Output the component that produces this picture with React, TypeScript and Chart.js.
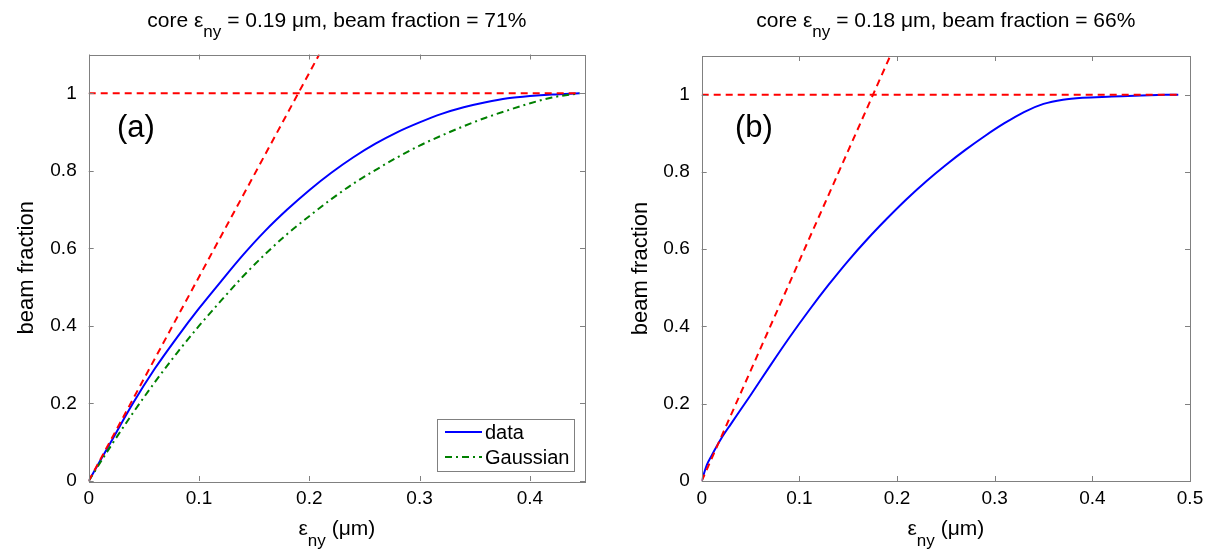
import React, { useEffect, useRef } from "react";
import { Chart, registerables } from "chart.js";
Chart.register(...registerables);

// ---------- data ----------
const yTicks = [0, 0.2, 0.4, 0.6, 0.8, 1];
const xTicksA = [0, 0.1, 0.2, 0.3, 0.4];
const xTicksB = [0, 0.1, 0.2, 0.3, 0.4, 0.5];

// panel (a)
const dataXA = [0, 0.02, 0.04, 0.06, 0.08, 0.1, 0.12, 0.14, 0.16, 0.18, 0.2, 0.22, 0.24, 0.26, 0.28, 0.3, 0.32, 0.34, 0.36, 0.38, 0.4, 0.42, 0.445];
const dataYA = [0, 0.1, 0.2, 0.29, 0.37, 0.445, 0.515, 0.583, 0.645, 0.7, 0.75, 0.795, 0.835, 0.87, 0.9, 0.925, 0.947, 0.964, 0.977, 0.987, 0.993, 0.997, 1.0];
const gaussXA = [0, 0.02, 0.04, 0.06, 0.08, 0.1, 0.12, 0.14, 0.16, 0.18, 0.2, 0.22, 0.24, 0.26, 0.28, 0.3, 0.32, 0.34, 0.36, 0.38, 0.4, 0.42, 0.445];
const gaussYA = [0, 0.09, 0.175, 0.255, 0.33, 0.4, 0.465, 0.528, 0.585, 0.637, 0.683, 0.727, 0.767, 0.802, 0.835, 0.865, 0.891, 0.915, 0.937, 0.956, 0.974, 0.989, 1.0];
const fullXA = [0, 0.445];
const fullYA = [1, 1];
const coreXA = [0, 0.209];
const coreYA = [0, 1.1];

// panel (b)
const dataXB = [0, 0.005, 0.01, 0.02, 0.03, 0.04, 0.05, 0.07, 0.09, 0.11, 0.13, 0.15, 0.17, 0.19, 0.21, 0.23, 0.25, 0.27, 0.29, 0.31, 0.33, 0.35, 0.37, 0.39, 0.42, 0.45, 0.488];
const dataYB = [0, 0.04, 0.065, 0.11, 0.148, 0.185, 0.222, 0.298, 0.372, 0.442, 0.508, 0.57, 0.627, 0.68, 0.73, 0.776, 0.818, 0.857, 0.893, 0.926, 0.955, 0.976, 0.987, 0.992, 0.995, 0.998, 1.0];
const fullXB = [0, 0.488];
const fullYB = [1, 1];
const coreXB = [0, 0.193];
const coreYB = [0, 1.1];

const titleA: [string, boolean][] = [["core ε", false], ["ny", true], [" = 0.19 μm, beam fraction = 71%", false]];
const titleB: [string, boolean][] = [["core ε", false], ["ny", true], [" = 0.18 μm, beam fraction = 66%", false]];
const xLabel: [string, boolean][] = [["ε", false], ["ny", true], [" (μm)", false]];
const yLabel = "beam fraction";
const legendLabels = ["data", "Gaussian"];

// ---------- style ----------
const FONT = '"Liberation Sans", Arial, Helvetica, sans-serif';
const RED = "rgb(255,0,0)";
const BLUE = "rgb(0,0,255)";
const GREEN = "rgb(0,128,0)";
const AXIS = "#808080";
const H = 559;

const pts = (xs: number[], ys: number[]) => xs.map((x, i) => ({ x, y: ys[i] }));
const fmt = (v: number) => String(parseFloat(Number(v).toFixed(2)));

function drawRich(ctx: CanvasRenderingContext2D, parts: [string, boolean][], x: number, y: number, size: number, subSize: number, subDy: number) {
  const widths = parts.map(([t, s]) => {
    ctx.font = `${s ? subSize : size}px ${FONT}`;
    return ctx.measureText(t).width;
  });
  const total = widths.reduce((a, b) => a + b, 0);
  let cx = x - total / 2;
  ctx.textAlign = "left";
  ctx.textBaseline = "alphabetic";
  parts.forEach(([t, s], i) => {
    ctx.font = `${s ? subSize : size}px ${FONT}`;
    ctx.fillText(t, cx, s ? y + subDy : y);
    cx += widths[i];
  });
}

type Panel = {
  left: number;
  width: number;
  plot: { l: number; r: number; t: number; b: number };
  xMax: number;
  xTicks: number[];
  title: [string, boolean][];
  tag: string;
  tagX: number;
  yLabelX: number;
  datasets: any[];
  legend?: { x0: number; y0: number; x1: number; y1: number };
};

function makeOverlay(p: Panel) {
  return {
    id: "overlay",
    afterDraw(chart: any) {
      const ctx: CanvasRenderingContext2D = chart.ctx;
      const ca = chart.chartArea;
      const xs = chart.scales.x;
      const ys = chart.scales.y;
      ctx.save();
      // box
      ctx.strokeStyle = AXIS;
      ctx.lineWidth = 1;
      ctx.setLineDash([]);
      ctx.strokeRect(Math.round(ca.left) + 0.5, Math.round(ca.top) + 0.5, Math.round(ca.right - ca.left), Math.round(ca.bottom - ca.top));
      // inward ticks
      const tl = 5;
      ctx.beginPath();
      p.xTicks.forEach((v) => {
        const px = Math.round(xs.getPixelForValue(v)) + 0.5;
        ctx.moveTo(px, ca.bottom);
        ctx.lineTo(px, ca.bottom - tl);
        ctx.moveTo(px, ca.top);
        ctx.lineTo(px, ca.top + tl);
      });
      yTicks.forEach((v) => {
        const py = Math.round(ys.getPixelForValue(v)) + 0.5;
        ctx.moveTo(ca.left, py);
        ctx.lineTo(ca.left + tl, py);
        ctx.moveTo(ca.right, py);
        ctx.lineTo(ca.right - tl, py);
      });
      ctx.stroke();

      ctx.fillStyle = "#000";
      // title
      drawRich(ctx, p.title, (ca.left + ca.right) / 2, 27, 21, 17, 10);
      // x label
      drawRich(ctx, xLabel, (ca.left + ca.right) / 2, 535, 21, 17, 11);
      // y label
      ctx.save();
      ctx.translate(p.yLabelX, (ca.top + ca.bottom) / 2);
      ctx.rotate(-Math.PI / 2);
      ctx.font = `22px ${FONT}`;
      ctx.textAlign = "center";
      ctx.textBaseline = "alphabetic";
      ctx.fillText(yLabel, 0, 0);
      ctx.restore();
      // panel tag
      ctx.font = `31px ${FONT}`;
      ctx.textAlign = "left";
      ctx.textBaseline = "alphabetic";
      ctx.fillText(p.tag, p.tagX, 137);
      // legend
      if (p.legend) {
        const L = p.legend;
        ctx.fillStyle = "#fff";
        ctx.fillRect(L.x0, L.y0, L.x1 - L.x0, L.y1 - L.y0);
        ctx.strokeStyle = AXIS;
        ctx.lineWidth = 1;
        ctx.strokeRect(L.x0 + 0.5, L.y0 + 0.5, L.x1 - L.x0, L.y1 - L.y0);
        const rows = [
          { y: L.y0 + 13, color: BLUE, dash: [] as number[] },
          { y: L.y0 + 38, color: GREEN, dash: [7, 4, 2, 4] },
        ];
        rows.forEach((r, i) => {
          ctx.strokeStyle = r.color;
          ctx.lineWidth = 2;
          ctx.setLineDash(r.dash);
          ctx.beginPath();
          ctx.moveTo(L.x0 + 8, r.y);
          ctx.lineTo(L.x0 + 45, r.y);
          ctx.stroke();
          ctx.setLineDash([]);
          ctx.fillStyle = "#000";
          ctx.font = `20px ${FONT}`;
          ctx.textAlign = "left";
          ctx.textBaseline = "middle";
          ctx.fillText(legendLabels[i], L.x0 + 48, r.y + 1);
        });
      }
      ctx.restore();
    },
  };
}

function buildChart(canvas: HTMLCanvasElement, p: Panel) {
  const W = p.width;
  return new Chart(canvas, {
    type: "scatter",
    data: { datasets: p.datasets },
    options: {
      animation: false,
      responsive: false,
      devicePixelRatio: 1,
      layout: { padding: { left: 0, top: p.plot.t, right: W - p.plot.r, bottom: 0 } },
      plugins: { legend: { display: false }, tooltip: { enabled: false }, title: { display: false } },
      scales: {
        x: {
          type: "linear",
          min: 0,
          max: p.xMax,
          grid: { display: false },
          border: { display: false },
          afterBuildTicks: (s: any) => {
            s.ticks = p.xTicks.map((v) => ({ value: v }));
          },
          afterFit: (s: any) => {
            s.height = H - p.plot.b;
          },
          ticks: { font: { family: FONT, size: 19 }, color: "#000", padding: -2, maxRotation: 0, autoSkip: false, callback: (v: any) => fmt(v) },
        },
        y: {
          type: "linear",
          min: 0,
          max: 1.1,
          grid: { display: false },
          border: { display: false },
          afterBuildTicks: (s: any) => {
            s.ticks = yTicks.map((v) => ({ value: v }));
          },
          afterFit: (s: any) => {
            s.width = p.plot.l;
          },
          ticks: { font: { family: FONT, size: 19 }, color: "#000", padding: 4, autoSkip: false, callback: (v: any) => fmt(v) },
        },
      },
    } as any,
    plugins: [makeOverlay(p)],
  });
}

const line = (xs: number[], ys: number[], color: string, dash: number[], smooth = false) => ({
  data: pts(xs, ys),
  showLine: true,
  borderColor: color,
  backgroundColor: color,
  borderWidth: 2,
  borderDash: dash,
  pointRadius: 0,
  fill: false,
  tension: 0,
  cubicInterpolationMode: smooth ? "monotone" : "default",
});

export default function App() {
  const refA = useRef<HTMLCanvasElement>(null);
  const refB = useRef<HTMLCanvasElement>(null);

  useEffect(() => {
    const panelA: Panel = {
      left: 0,
      width: 606,
      plot: { l: 88.7, r: 585, t: 54.5, b: 481 },
      xMax: 0.45,
      xTicks: xTicksA,
      title: titleA,
      tag: "(a)",
      tagX: 117,
      yLabelX: 33,
      datasets: [
        line(fullXA, fullYA, RED, [7, 5]),
        line(coreXA, coreYA, RED, [7, 5]),
        line(gaussXA, gaussYA, GREEN, [7, 4, 2, 4], true),
        line(dataXA, dataYA, BLUE, [], true),
      ],
      legend: { x0: 437, y0: 419, x1: 574, y1: 471 },
    };
    const panelB: Panel = {
      left: 606,
      width: 607,
      plot: { l: 95.7, r: 584, t: 56, b: 481 },
      xMax: 0.5,
      xTicks: xTicksB,
      title: titleB,
      tag: "(b)",
      tagX: 129,
      yLabelX: 41,
      datasets: [
        line(fullXB, fullYB, RED, [7, 5]),
        line(coreXB, coreYB, RED, [7, 5]),
        line(dataXB, dataYB, BLUE, [], true),
      ],
    };
    const cA = buildChart(refA.current!, panelA);
    const cB = buildChart(refB.current!, panelB);
    return () => {
      cA.destroy();
      cB.destroy();
    };
  }, []);

  return (
    <div style={{ position: "absolute", left: 0, top: 0, width: 1213, height: 559, background: "#fff", overflow: "hidden" }}>
      <canvas ref={refA} width={606} height={559} style={{ position: "absolute", left: 0, top: 0, width: 606, height: 559 }} />
      <canvas ref={refB} width={607} height={559} style={{ position: "absolute", left: 606, top: 0, width: 607, height: 559 }} />
    </div>
  );
}
